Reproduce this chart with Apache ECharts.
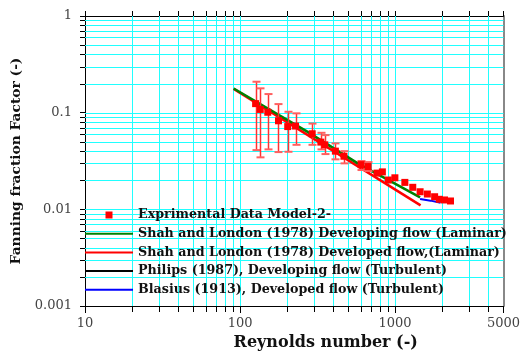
<!DOCTYPE html>
<html><head><meta charset="utf-8">
<script src="https://cdn.jsdelivr.net/npm/echarts@6/dist/echarts.min.js"></script>
<style>html,body{margin:0;padding:0;background:#fff}#c{width:523px;height:356px}</style>
</head><body><div id="c"></div>
<script>
// Experimental data (Reynolds number, Fanning friction factor, error bar limits)
const reExp = [126, 135, 151, 177, 203, 228, 292, 332, 352, 412, 468, 604, 670, 765, 828, 904, 997, 1156, 1300, 1450, 1615, 1799, 1928, 2084, 2278];
const fExp = [0.124, 0.108, 0.101, 0.0824, 0.0718, 0.0727, 0.0605, 0.0496, 0.0465, 0.0400, 0.0354, 0.0290, 0.0277, 0.0237, 0.0244, 0.0201, 0.0212, 0.0190, 0.0169, 0.0152, 0.0144, 0.0135, 0.0127, 0.0125, 0.0122];
const fErrHigh = [0.209, 0.1785, 0.1558, 0.1227, 0.1022, 0.0984, 0.0771, 0.0619, 0.0586, 0.0481, 0.0400, 0.0316, 0.0308, null, null, null, null, null, null, null, null, null, null, null, null];
const fErrLow = [0.0410, 0.0345, 0.0417, 0.0391, 0.0394, 0.0465, 0.0465, 0.0417, 0.0373, 0.0329, 0.0299, 0.0255, 0.0249, null, null, null, null, null, null, null, null, null, null, null, null];
// Correlations
const reDevLam = [91, 268, 575, 1450];
const fDevLam = [0.178, 0.0645, 0.0299, 0.0133];
const reFullLam = [91, 1460];
const fFullLam = [0.176, 0.011];
const rePhilips = [];
const fPhilips = [];
const reBlasius = [1450, 1694, 1966];
const fBlasius = [0.0128, 0.0123, 0.0117];
// Series names
const seriesNames = [
  'Exprimental Data Model-2-',
  'Shah and London (1978) Developing flow (Laminar)',
  'Shah and London (1978) Developed flow,(Laminar)',
  'Philips (1987), Developing flow (Turbulent)',
  'Blasius (1913), Developed flow (Turbulent)'
];
// Axis / grid values
const xMin = 10, xMax = 5000, yMin = 0.001, yMax = 1;
const xGridVals = [20,30,40,50,60,70,80,90,100,200,300,400,500,600,700,800,900,1000,2000,3000,4000];
const yGridVals = [0.002,0.003,0.004,0.005,0.006,0.007,0.008,0.009,0.01,0.02,0.03,0.04,0.05,0.06,0.07,0.08,0.09,0.1,0.2,0.3,0.4,0.5,0.6,0.7,0.8,0.9];
const xMajor = [100, 1000];
const yMajor = [0.01, 0.1];

const zip = (a, b) => a.map((v, i) => [v, b[i]]);
const GRID_C = '#20ffff';
const LINE_ICON = 'path://M0,0L48,0L48,2L0,2Z';

function gridSeries(vals, dir) {
  return {
    type: 'custom', silent: true, z: 1, clip: false,
    data: vals.map(v => dir === 'x' ? [v, 0.01] : [100, v]),
    renderItem: (params, api) => {
      const cs = params.coordSys;
      const v = api.value(dir === 'x' ? 0 : 1);
      const p = api.coord([api.value(0), api.value(1)]);
      const major = (dir === 'x' ? xMajor : yMajor).indexOf(v) >= 0;
      const ch = [];
      if (dir === 'x') {
        const x = Math.round(p[0]) + 0.5;
        ch.push({type: 'line', shape: {x1: x, y1: cs.y, x2: x, y2: cs.y + cs.height}, style: {stroke: GRID_C, lineWidth: 1}});
        if (!major) {
          ch.push({type: 'line', shape: {x1: x, y1: cs.y + cs.height, x2: x, y2: cs.y + cs.height + 6}, style: {stroke: '#000', lineWidth: 1}});
          ch.push({type: 'line', shape: {x1: x, y1: cs.y, x2: x, y2: cs.y - 5}, style: {stroke: '#000', lineWidth: 1}});
        }
      } else {
        const y = Math.round(p[1]) + 0.5;
        ch.push({type: 'line', shape: {x1: cs.x, y1: y, x2: cs.x + cs.width, y2: y}, style: {stroke: GRID_C, lineWidth: 1}});
        if (!major) {
          ch.push({type: 'line', shape: {x1: cs.x, y1: y, x2: cs.x - 5, y2: y}, style: {stroke: '#000', lineWidth: 1}});
        }
      }
      return {type: 'group', children: ch};
    }
  };
}

const errData = [];
reExp.forEach((x, i) => { if (fErrHigh[i] != null) errData.push([x, fErrLow[i], fErrHigh[i]]); });

const fmt = v => String(+(+v).toPrecision(6));
const serif = 'DejaVu Serif';

const chart = echarts.init(document.getElementById('c'), null, {renderer: 'canvas'});
chart.setOption({
  animation: false,
  backgroundColor: '#fff',
  grid: {left: 85, right: 17, top: 16, bottom: 50, containLabel: false},
  xAxis: [{
    type: 'log', min: xMin, max: xMax, logBase: 10,
    name: 'Reynolds number (-)', nameLocation: 'middle', nameGap: 28,
    nameTextStyle: {fontFamily: serif, fontWeight: 'bold', fontSize: 16, color: '#111', padding: [0, 0, 0, 63]},
    axisLine: {show: true, lineStyle: {color: '#000', width: 1}},
    axisTick: {show: true, length: 7, lineStyle: {color: '#000'}},
    axisLabel: {fontFamily: serif, fontSize: 13, color: '#444', margin: 11, formatter: fmt, showMinLabel: true, showMaxLabel: true},
    splitLine: {show: false}, minorTick: {show: false}
  }, {
    type: 'log', min: xMin, max: xMax, logBase: 10, position: 'top',
    axisLine: {show: true, onZero: false, lineStyle: {color: '#000', width: 1}},
    axisTick: {show: true, length: 5, lineStyle: {color: '#000'}},
    axisLabel: {show: false}, splitLine: {show: false}
  }],
  yAxis: [{
    type: 'log', min: yMin, max: yMax, logBase: 10,
    name: 'Fanning fraction Factor (-)', nameLocation: 'middle', nameGap: 47, nameRotate: 90,
    nameTextStyle: {fontFamily: serif, fontWeight: 'bold', fontSize: 13.8, color: '#111'},
    axisLine: {show: true, lineStyle: {color: '#000', width: 1}},
    axisTick: {show: true, length: 5, lineStyle: {color: '#000'}},
    axisLabel: {fontFamily: serif, fontSize: 13, color: '#444', margin: 13, formatter: fmt, showMinLabel: true, showMaxLabel: true},
    splitLine: {show: false}
  }, {
    type: 'log', min: yMin, max: yMax, logBase: 10, position: 'right',
    axisLine: {show: true, onZero: false, lineStyle: {color: '#888', width: 2}},
    axisTick: {show: false}, axisLabel: {show: false}, splitLine: {show: false}
  }],
  legend: {
    orient: 'vertical', left: 85, top: 208, padding: 0,
    itemWidth: 48, itemHeight: 7, itemGap: 4.7,
    symbolKeepAspect: true,
    data: [
      {name: seriesNames[0], icon: 'path://M0,0L7,0L7,7L0,7Z'},
      {name: seriesNames[1], icon: LINE_ICON},
      {name: seriesNames[2], icon: LINE_ICON},
      {name: seriesNames[3], icon: LINE_ICON},
      {name: seriesNames[4], icon: LINE_ICON}
    ],
    textStyle: {fontFamily: serif, fontWeight: 'bold', fontSize: 12.7, color: '#111', lineHeight: 14},
    selectedMode: false
  },
  series: [
    gridSeries(xGridVals, 'x'),
    gridSeries(yGridVals, 'y'),
    {
      name: seriesNames[1], type: 'line', symbol: 'none', z: 4,
      data: zip(reDevLam, fDevLam),
      lineStyle: {color: '#008000', width: 2.5}, itemStyle: {color: '#008000'}
    },
    {
      name: seriesNames[2], type: 'line', symbol: 'none', z: 3,
      data: zip(reFullLam, fFullLam),
      lineStyle: {color: '#ff0000', width: 2.5}, itemStyle: {color: '#ff0000'}
    },
    {
      name: seriesNames[3], type: 'line', symbol: 'none', z: 3,
      data: zip(rePhilips, fPhilips),
      lineStyle: {color: '#000', width: 2}, itemStyle: {color: '#000'}
    },
    {
      name: seriesNames[4], type: 'line', symbol: 'none', z: 4,
      data: zip(reBlasius, fBlasius),
      lineStyle: {color: '#0000ff', width: 2}, itemStyle: {color: '#0000ff'}
    },
    {
      type: 'custom', name: 'errorbars', z: 5, silent: true,
      encode: {x: 0, y: [1, 2]},
      data: errData,
      renderItem: (params, api) => {
        const lo = api.coord([api.value(0), api.value(1)]);
        const hi = api.coord([api.value(0), api.value(2)]);
        const x = Math.round(lo[0]) + 0.5, hw = 4;
        return {type: 'group', children: [
          {type: 'line', shape: {x1: x, y1: hi[1], x2: x, y2: lo[1]}, style: {stroke: '#ff3030', lineWidth: 1.5}},
          {type: 'line', shape: {x1: x - hw, y1: hi[1], x2: x + hw, y2: hi[1]}, style: {stroke: '#ff6060', lineWidth: 2}},
          {type: 'line', shape: {x1: x - hw, y1: lo[1], x2: x + hw, y2: lo[1]}, style: {stroke: '#ff6060', lineWidth: 2}}
        ]};
      }
    },
    {
      name: seriesNames[0], type: 'scatter', symbol: 'rect', symbolSize: 7, z: 6,
      data: zip(reExp, fExp),
      itemStyle: {color: '#ff0000', opacity: 1}
    }
  ]
});
</script>
</body></html>
